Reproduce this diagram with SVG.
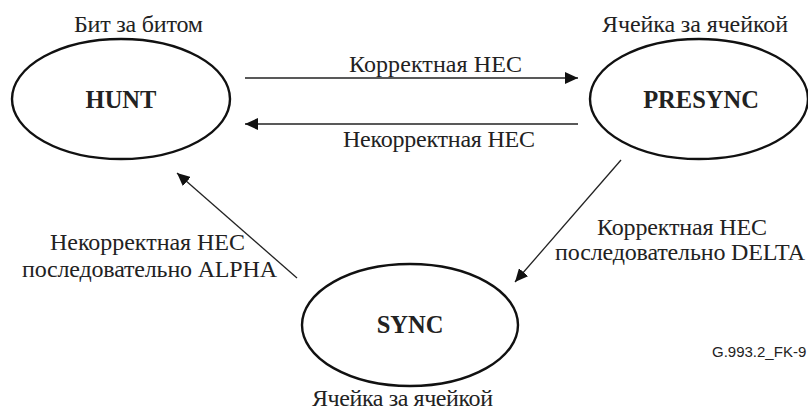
<svg xmlns="http://www.w3.org/2000/svg" width="808" height="412" viewBox="0 0 808 412">
<defs>
<marker id="ah" viewBox="0 0 13 12" refX="13" refY="6" markerWidth="13" markerHeight="12" markerUnits="userSpaceOnUse" orient="auto">
<path d="M0,0 L13,6 L0,12 Z" fill="#111"/>
</marker>
</defs>
<style>
.st{fill:#fff;stroke:#111;stroke-width:2.4}
.nm{font-family:"Liberation Serif","Times New Roman","DejaVu Serif",serif;font-weight:bold;font-size:24.5px;fill:#222;text-anchor:middle}
.lb{font-family:"Liberation Serif","Times New Roman","DejaVu Serif",serif;font-size:24px;fill:#222;text-anchor:middle}
.cn{stroke:#222;stroke-width:1.3;fill:none;marker-end:url(#ah)}
.fig{font-family:"Liberation Sans",Arial,sans-serif;font-size:15px;fill:#222}
</style>
<rect width="808" height="412" fill="#fff"/>
<g id="hunt">
<ellipse class="st" cx="121" cy="99" rx="109" ry="60"/>
<text class="nm" x="121" y="108">HUNT</text>
<text class="lb" x="138.5" y="32" textLength="129">Бит за битом</text>
</g>
<g id="presync">
<ellipse class="st" cx="699" cy="99" rx="109" ry="60"/>
<text class="nm" x="701" y="108">PRESYNC</text>
<text class="lb" x="695" y="32" textLength="186">Ячейка за ячейкой</text>
</g>
<g id="sync">
<ellipse class="st" cx="410" cy="325" rx="108" ry="61"/>
<text class="nm" x="410" y="333">SYNC</text>
<text class="lb" x="402.5" y="406" textLength="181">Ячейка за ячейкой</text>
</g>
<g id="connectors">
<line class="cn" x1="245" y1="78" x2="578" y2="78"/>
<line class="cn" x1="578" y1="124" x2="245" y2="124"/>
<line class="cn" x1="621" y1="160" x2="515" y2="282"/>
<line class="cn" x1="297" y1="278" x2="177" y2="173"/>
<text class="lb" x="435.5" y="72" textLength="173">Корректная HEC</text>
<text class="lb" x="439" y="147" textLength="192">Некорректная HEC</text>
<text class="lb" x="682" y="235" textLength="170">Корректная HEC</text>
<text class="lb" x="680" y="260" textLength="250">последовательно DELTA</text>
<text class="lb" x="147.5" y="250" textLength="195">Некорректная HEC</text>
<text class="lb" x="149.5" y="277" textLength="255">последовательно ALPHA</text>
</g>
<text class="fig" x="712" y="357">G.993.2_FK-9</text>
</svg>
